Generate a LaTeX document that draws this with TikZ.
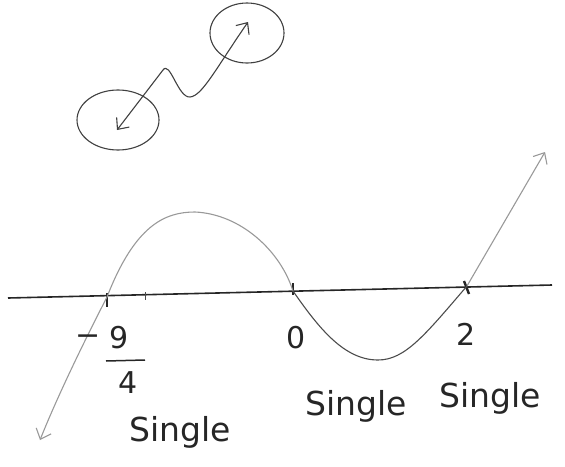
\documentclass[tikz,border=0pt]{standalone}
\usepackage{fontspec}
\setmainfont{DejaVu Sans}
\usetikzlibrary{shapes.geometric,arrows.meta,calc}
\begin{document}
\begin{tikzpicture}[x=1pt,y=-1pt,
  pencil/.style={draw=black!75,line width=1.1pt,line cap=round,line join=round},
  oval/.style={ellipse,pencil,minimum width=#1},
  curvelight/.style={draw=black!40,line width=1.1pt,line cap=round},
  curvedark/.style={draw=black!70,line width=1.1pt,line cap=round},
  tip/.style={-{Straight Barb[length=9pt,width=16pt]}},
  lab/.style={font=\fontsize{33}{38}\selectfont,text=black!85,inner sep=0pt},
  num/.style={font=\fontsize{30}{34}\selectfont,text=black!85,inner sep=0pt}]
\useasboundingbox (0,0) rectangle (565,466);
% top figure
\node[oval=82pt,minimum height=60pt] (eL) at (118,120) {};
\node[oval=74pt,minimum height=60pt] (eR) at (247,33) {};
\coordinate (pL) at (117,130);
\coordinate (pR) at (248,22);
\draw[pencil,{Straight Barb[length=9pt,width=16pt]}-{Straight Barb[length=9pt,width=16pt]}]
  (pL) -- (163,70) .. controls (170,60) and (178,98) .. (190,97)
  .. controls (202,96) and (215,70) .. (pR);
% axis
\coordinate (axL) at (8,298);
\coordinate (axR) at (552,285);
\draw[draw=black!85,line width=1.6pt] (axL) -- (axR);
\coordinate (t1) at (107,297);
\coordinate (t2) at (145,296);
\coordinate (t0) at (293,291);
\coordinate (t3) at (467,286);
\draw[line width=2.4pt,black!85] ($(t1)+(0,-4)$) -- ($(t1)+(0,10)$);
\draw[line width=1pt,black!70] ($(t2)+(0,-4)$) -- ($(t2)+(0,4)$);
\draw[line width=2pt,black!85] ($(t0)+(0,-8)$) -- ($(t0)+(0,4)$);
\draw[line width=2.4pt,black!85] ($(t3)+(-3,-5)$) -- ($(t3)+(2,8)$);
% curve
\coordinate (aL) at (40,440);
\coordinate (aR) at (545,152);
\draw[curvelight,tip] (t1) .. controls (90,330) and (60,390) .. (aL);
\draw[curvelight] (t1) .. controls (135,225) and (165,212) .. (195,212)
  .. controls (240,214) and (280,250) .. (t0);
\draw[curvedark] (t0) .. controls (320,330) and (345,360) .. (378,360)
  .. controls (405,360) and (425,335) .. (t3);
\draw[curvelight,tip] (t3) -- (aR);
% labels
\node[num] (m) at (88,340) {−};
\node[num] (n9) at (119,338) {9};
\draw[line width=1.5pt,black!85] (106,361) -- (145,360);
\node[num] (n4) at (128,383) {4};
\node[num] (z) at (296,338) {0};
\node[num] (two) at (466,334) {2};
\node[lab] (s1) at (180,432) {Single};
\node[lab] (s2) at (356,406) {Single};
\node[lab] (s3) at (490,398) {Single};
\end{tikzpicture}
\end{document}
